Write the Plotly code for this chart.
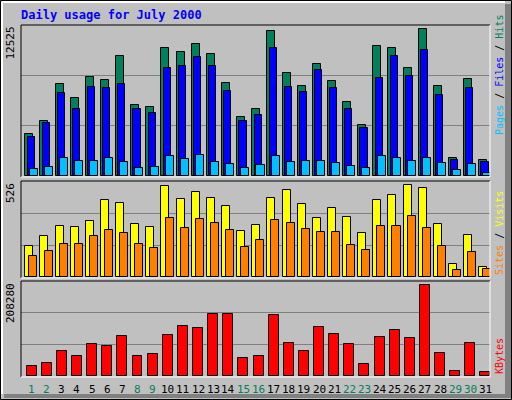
import plotly.graph_objects as go

days = list(range(1, 32))
hits = [3484,4562,7631,6470,8212,7963,9954,5889,5724,10618,10286,10949,10120,7714,4894,5558,
        12028,8544,7466,9290,7880,6138,4230,10783,10618,8958,12194,7466,1493,8046,1327]
files = [3235,4396,6885,5558,7383,7300,7631,5558,5226,8958,9124,9871,9124,7051,4562,5060,
         10618,7383,6968,8793,7300,5558,3982,8129,9954,8295,10452,6719,1327,7300,1161]
pages = [581,747,1493,1244,1244,1493,1161,664,747,1659,1410,1742,1161,995,664,912,
         1659,1161,1244,1244,1078,829,664,1659,1493,1244,1493,1078,498,995,249]
visits = [172,226,281,276,309,424,407,292,276,500,429,468,435,391,254,287,
          435,479,402,325,380,331,243,424,451,506,489,292,73,232,57]
sites = [117,144,183,183,226,259,243,183,161,325,270,320,298,259,166,205,
         314,298,265,248,248,177,150,281,281,336,270,172,40,139,46]
kbytes = [22655,29232,55541,44579,70888,66503,88427,44579,48964,90619,110351,105966,136660,136660,40194,44579,
          134468,73080,55541,108158,92812,70888,27040,86234,101581,84042,200239,51156,11693,73080,9500]
weekend = [1,2,8,9,15,16,22,23,29,30]
max_top, max_mid, max_bot = 12525, 526, 208280

W, H = 512, 400
def px(v): return v / W
def py(v): return 1 - v / H

fig = go.Figure()
def bar(xs, ys, color, width, shift, yaxis):
    fig.add_trace(go.Bar(x=[d + shift for d in xs], y=ys, width=width, marker=dict(color=color, line=dict(color='black', width=1)),
                         yaxis=yaxis, showlegend=False, hoverinfo='skip'))

bar(days, hits, '#00805C', 0.53, 0.05, 'y')
bar(days, files, '#0000FF', 0.47, 0.17, 'y')
bar(days, pages, '#00C0FF', 0.53, 0.33, 'y')
bar(days, visits, '#FFFF00', 0.53, 0.05, 'y2')
bar(days, sites, '#FF8000', 0.53, 0.32, 'y2')
bar(days, kbytes, '#FF0000', 0.66, 0.2, 'y3')

xd = [px(21), px(490)]
grid = dict(showgrid=True, gridcolor='#808080', gridwidth=1, showticklabels=False, zeroline=False, showline=False, ticks='')
fig.update_layout(
    width=W, height=H, margin=dict(l=0, r=0, t=0, b=0), autosize=False,
    paper_bgcolor='#C0C0C0', plot_bgcolor='#C0C0C0', barmode='overlay', bargap=0,
    xaxis=dict(domain=xd, range=[0.5, 31.5], showticklabels=False, showgrid=False, zeroline=False, anchor='y3'),
    yaxis=dict(domain=[py(176), py(25)], range=[0, max_top], tickvals=[max_top/3, 2*max_top/3], **grid),
    yaxis2=dict(domain=[py(277), py(181)], range=[0, max_mid], tickvals=[max_mid/3, 2*max_mid/3], **grid),
    yaxis3=dict(domain=[py(376), py(281)], range=[0, max_bot], tickvals=[max_bot/3, 2*max_bot/3], **grid),
)

shapes = []
shapes.append(dict(type='rect', xref='paper', yref='paper', x0=px(505), x1=px(511), y0=py(398), y1=py(4), fillcolor='#808080', line_width=0))
shapes.append(dict(type='rect', xref='paper', yref='paper', x0=px(4), x1=px(511), y0=py(398), y1=py(394), fillcolor='#808080', line_width=0))
shapes.append(dict(type='line', xref='paper', yref='paper', x0=px(2), x1=px(505), y0=py(2), y1=py(2), line=dict(color='white', width=2)))
shapes.append(dict(type='line', xref='paper', yref='paper', x0=px(2), x1=px(2), y0=py(2), y1=py(394), line=dict(color='white', width=2)))
shapes.append(dict(type='rect', xref='paper', yref='paper', x0=px(0.5), x1=px(511.5), y0=py(399.5), y1=py(0.5), line=dict(color='black', width=1)))
for t, b in [(25, 176), (181, 277), (281, 376)]:
    shapes.append(dict(type='line', xref='paper', yref='paper', x0=px(21), x1=px(490), y0=py(t), y1=py(t), line=dict(color='black', width=1)))
    shapes.append(dict(type='line', xref='paper', yref='paper', x0=px(21), x1=px(21), y0=py(t), y1=py(b + 1), line=dict(color='black', width=1)))
    shapes.append(dict(type='line', xref='paper', yref='paper', x0=px(490), x1=px(490), y0=py(t), y1=py(b + 1), line=dict(color='white', width=1)))
    shapes.append(dict(type='line', xref='paper', yref='paper', x0=px(21), x1=px(490), y0=py(b + 1), y1=py(b + 1), line=dict(color='white', width=1)))
fig.update_layout(shapes=shapes)

mono = 'DejaVu Sans Mono'
ann = []
ann.append(dict(text='<b>Daily usage for July 2000</b>', x=px(19), y=py(15), xref='paper', yref='paper', xanchor='left', yanchor='middle',
                showarrow=False, font=dict(family=mono, size=12, color='#0000FF')))
for lbl, top in [('12525', 25), ('526', 181), ('208280', 281)]:
    ann.append(dict(text=lbl, x=px(10), y=py(top), xref='paper', yref='paper', xanchor='center', yanchor='top', textangle=-90,
                    showarrow=False, font=dict(family=mono, size=11, color='black')))
ann.append(dict(text='<span style="color:#00C0FF">Pages</span> / <span style="color:#0000FF">Files</span> / <span style="color:#00805C">Hits</span>',
                x=px(499), y=py(137), xref='paper', yref='paper', xanchor='center', yanchor='bottom', textangle=-90, showarrow=False,
                font=dict(family=mono, size=10, color='black')))
ann.append(dict(text='<span style="color:#FF8000">Sites</span> / <span style="color:#FFFF00">Visits</span>',
                x=px(499), y=py(277), xref='paper', yref='paper', xanchor='center', yanchor='bottom', textangle=-90, showarrow=False,
                font=dict(family=mono, size=10, color='black')))
ann.append(dict(text='<span style="color:#FF0000">KBytes</span>',
                x=px(499), y=py(376), xref='paper', yref='paper', xanchor='center', yanchor='bottom', textangle=-90, showarrow=False,
                font=dict(family=mono, size=10, color='black')))
for d in days:
    ann.append(dict(text=str(d), x=d + 0.2, y=py(389), xref='x', yref='paper', xanchor='center', yanchor='middle', showarrow=False,
                    font=dict(family=mono, size=11, color='#00805C' if d in weekend else 'black')))
fig.update_layout(annotations=ann)

fig.write_html('out.html', config={'displayModeBar': False},
               post_script="document.body.style.margin='0';document.body.style.overflow='hidden';")
